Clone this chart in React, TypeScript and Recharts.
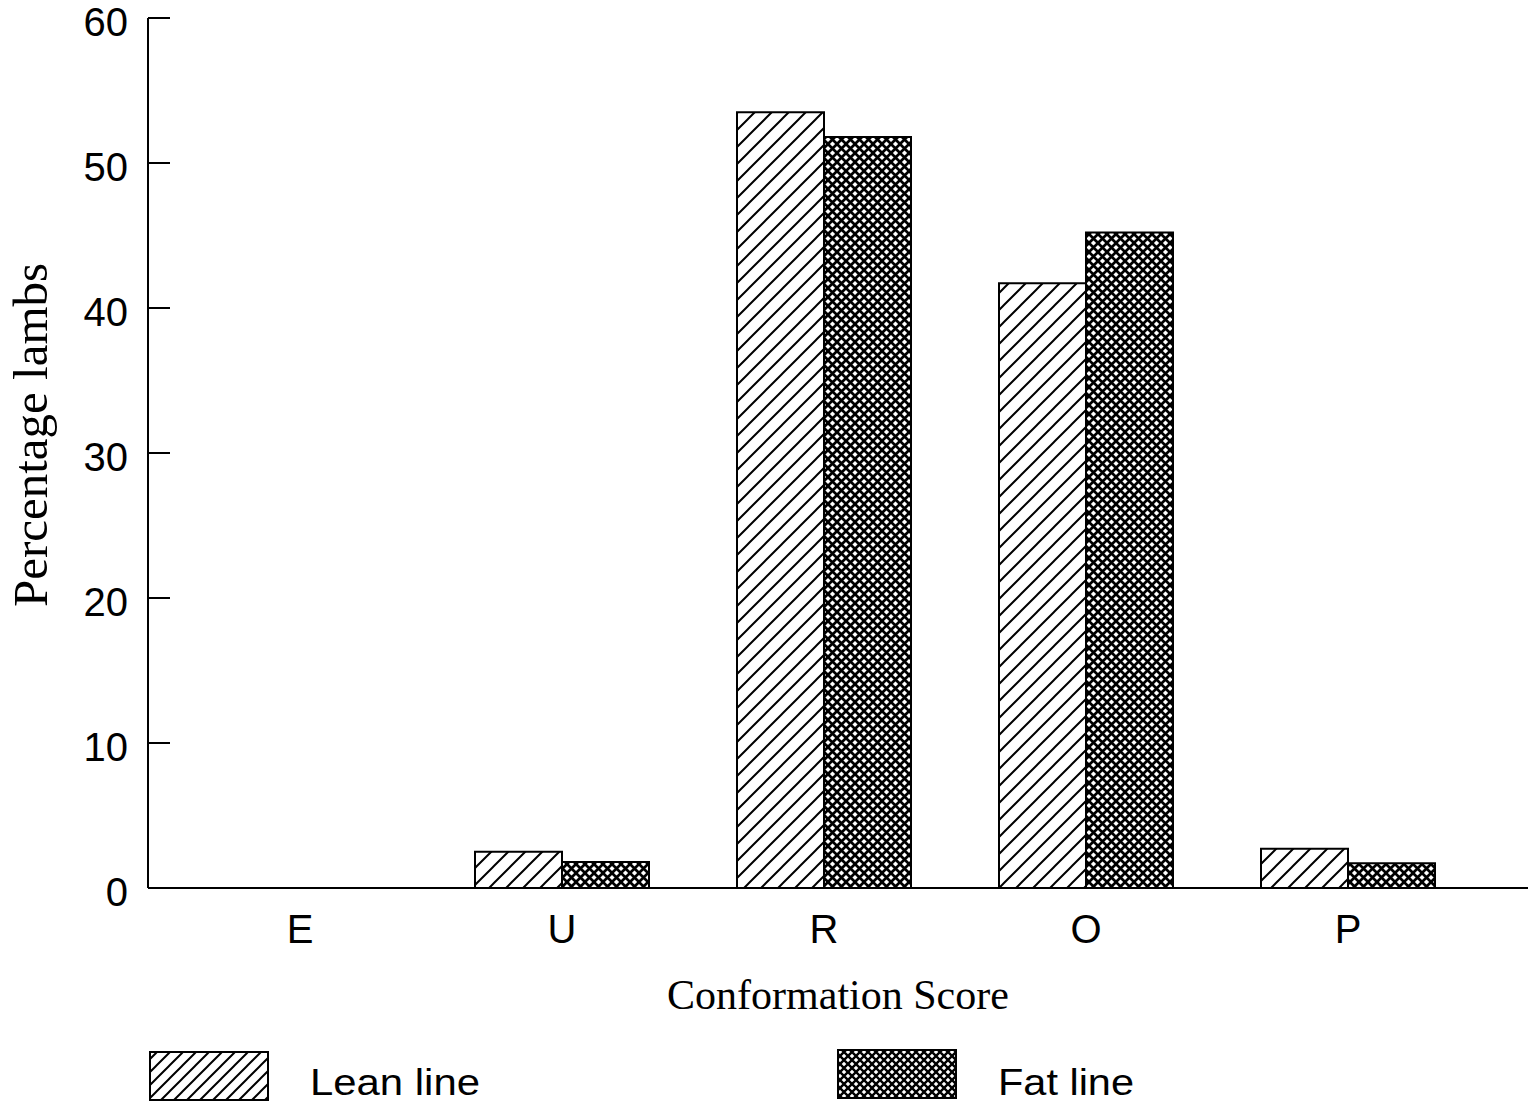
import { BarChart, Bar, XAxis, YAxis } from 'recharts'

const categories = ['E', 'U', 'R', 'O', 'P']
const leanLine = [0, 2.5, 53.5, 41.7, 2.7]
const fatLine = [0, 1.8, 51.8, 45.2, 1.7]
const yTicks = [0, 10, 20, 30, 40, 50, 60]

const series = [
  { key: 'lean', name: 'Lean line', fill: 'url(#hatch)', legendFill: 'url(#hatchLegend)' },
  { key: 'fat', name: 'Fat line', fill: 'url(#cross)', legendFill: 'url(#crossLegend)' },
]

const chartData = categories.map((cat, i) => ({
  cat,
  lean: leanLine[i],
  fat: fatLine[i],
}))

const SANS = '"Liberation Sans", Arial, sans-serif'
const SERIF = '"Liberation Serif", "Times New Roman", serif'

function YTick(props: any) {
  const { x, y, payload } = props
  return (
    <g>
      <line x1={x} x2={x + 22} y1={y} y2={y} stroke="#000" strokeWidth={2} />
      <text
        x={x - 20}
        y={y + 18}
        textAnchor="end"
        fontSize={40}
        fontFamily={SANS}
        fill="#000"
      >
        {payload.value}
      </text>
    </g>
  )
}

function XTick(props: any) {
  const { x, y, payload } = props
  return (
    <text x={x} y={y + 55} textAnchor="middle" fontSize={40} fontFamily={SANS} fill="#000">
      {payload.value}
    </text>
  )
}

function XTitle(props: any) {
  const { viewBox } = props
  return (
    <text
      x={viewBox.x + viewBox.width / 2}
      y={viewBox.y + 121}
      textAnchor="middle"
      fontSize={42}
      fontFamily={SERIF}
      fill="#000"
    >
      Conformation Score
    </text>
  )
}

function YTitle() {
  const cy = 435
  return (
    <text
      x={47}
      y={cy}
      transform={`rotate(-90, 47, ${cy})`}
      textAnchor="middle"
      fontSize={49}
      fontFamily={SERIF}
      fill="#000"
    >
      Percentage lambs
    </text>
  )
}

function Patterns({ suffix, hatchStep, crossStep, crossWidth }: { suffix: string; hatchStep: number; crossStep: number; crossWidth: number }) {
  const h = hatchStep
  const c = crossStep
  return (
    <defs>
      <pattern id={`hatch${suffix}`} patternUnits="userSpaceOnUse" width={h} height={h}>
        <rect width={h} height={h} fill="#fff" />
        <path
          d={`M0,${h} L${h},0 M${-h / 2},${h / 2} L${h / 2},${-h / 2} M${h / 2},${h * 1.5} L${h * 1.5},${h / 2}`}
          stroke="#000"
          strokeWidth={2}
        />
      </pattern>
      <pattern id={`cross${suffix}`} patternUnits="userSpaceOnUse" width={c} height={c}>
        <rect width={c} height={c} fill="#fff" />
        <path d={`M0,0 L${c},${c} M${c},0 L0,${c}`} stroke="#000" strokeWidth={crossWidth} />
      </pattern>
    </defs>
  )
}

function LegendRow() {
  const boxes = [
    { x: 150, y: 1052, textX: 310, textW: 170 },
    { x: 838, y: 1050, textX: 998, textW: 136 },
  ]
  return (
    <svg
      width={1533}
      height={1104}
      style={{ position: 'absolute', left: 0, top: 0, pointerEvents: 'none' }}
    >
      <Patterns suffix="Legend" hatchStep={13} crossStep={8} crossWidth={2.4} />
      {series.map((s, i) => (
        <g key={s.key}>
          <rect
            x={boxes[i].x}
            y={boxes[i].y}
            width={118}
            height={48}
            fill={s.legendFill}
            stroke="#000"
            strokeWidth={2}
          />
          <text
            x={boxes[i].textX}
            y={1095}
            fontSize={36}
            fontFamily={SANS}
            fill="#000"
            textLength={boxes[i].textW}
            lengthAdjust="spacingAndGlyphs"
          >
            {s.name}
          </text>
        </g>
      ))}
    </svg>
  )
}

export default function App() {
  return (
    <div style={{ position: 'absolute', left: 0, top: 0, width: 1533, height: 1104, background: '#fff' }}>
      <BarChart
        width={1533}
        height={1104}
        data={chartData}
        margin={{ top: 18, right: 5, bottom: 0, left: 0 }}
        barGap={0}
        barSize={87}
      >
        <Patterns suffix="" hatchStep={17} crossStep={9} crossWidth={2.7} />
        <XAxis
          dataKey="cat"
          height={216}
          padding={{ left: 21, right: 49 }}
          tickLine={false}
          tickSize={0}
          tickMargin={0}
          axisLine={{ stroke: '#000', strokeWidth: 2 }}
          tick={<XTick />}
          label={<XTitle />}
        />
        <XAxis
          xAxisId="top"
          orientation="top"
          dataKey="cat"
          height={0}
          tick={false}
          tickLine={false}
          axisLine={{ stroke: '#000', strokeWidth: 2 }}
        />
        <YAxis
          width={148}
          domain={[0, 60]}
          ticks={yTicks}
          tickLine={false}
          tickSize={0}
          tickMargin={0}
          axisLine={{ stroke: '#000', strokeWidth: 2 }}
          tick={<YTick />}
          label={<YTitle />}
        />
        <YAxis
          yAxisId="right"
          orientation="right"
          width={0}
          domain={[0, 60]}
          tick={false}
          tickLine={false}
          axisLine={{ stroke: '#000', strokeWidth: 2 }}
        />
        {series.map(s => (
          <Bar
            key={s.key}
            dataKey={s.key}
            name={s.name}
            fill={s.fill}
            stroke="#000"
            strokeWidth={2}
            isAnimationActive={false}
          />
        ))}
      </BarChart>
      <LegendRow />
    </div>
  )
}
